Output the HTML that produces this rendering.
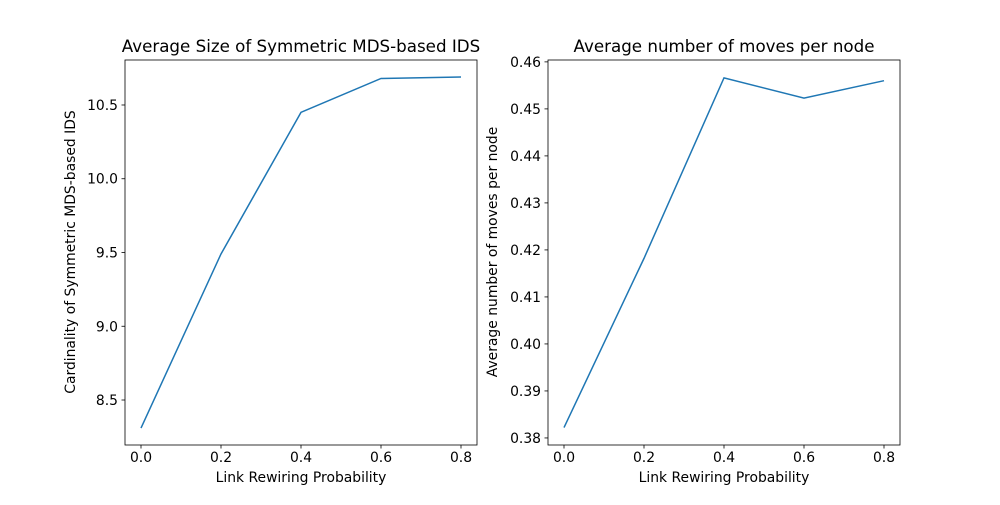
<!DOCTYPE html>
<html><head><meta charset="utf-8"><style>body{margin:0;background:#fff}svg{font-family:"DejaVu Sans","Liberation Sans",sans-serif}</style></head>
<body>
<svg id="fig" width="1000" height="500" xmlns="http://www.w3.org/2000/svg"></svg>
<script>
const xCats=[0.0,0.2,0.4,0.6,0.8];
const xTicks=[0.0,0.2,0.4,0.6,0.8];
const leftVals=[8.31,9.49,10.45,10.68,10.69];
const leftTicks=[8.5,9.0,9.5,10.0,10.5];
const rightVals=[0.3822,0.4182,0.4566,0.4523,0.4560];
const rightTicks=[0.38,0.39,0.40,0.41,0.42,0.43,0.44,0.45,0.46];
const NS="http://www.w3.org/2000/svg";
const svg=document.getElementById('fig');
function mk(t,a,p){const e=document.createElementNS(NS,t);for(const k in a)e.setAttribute(k,a[k]);(p||svg).appendChild(e);return e;}
function panel(name,x0,x1,y0,y1,ymin,ymax,vals,yt,dec,title,ylabel){
 const g=mk('g',{});
 
 
 const sx=v=>x0+(v+0.04)/0.88*(x1-x0);
 const sy=v=>y1-(v-ymin)/(ymax-ymin)*(y1-y0);
 const pts=xCats.map((c,i)=>sx(c)+','+sy(vals[i])).join(' ');
 const l=mk('polyline',{points:pts,fill:'none',stroke:'#1f77b4','stroke-width':1.5},g);
 
 
 const r=mk('rect',{x:x0,y:y0,width:x1-x0,height:y1-y0,fill:'none',stroke:'#000','stroke-width':0.8},g);
 
 
 xTicks.forEach(t=>{const x=sx(t);mk('line',{x1:x,x2:x,y1:y1,y2:y1+3.5,stroke:'#000','stroke-width':0.8},g);
  const tx=mk('text',{x:x,y:y1+17,'font-size':13.9,'text-anchor':'middle'},g);tx.textContent=t.toFixed(1);
  
  });
 yt.forEach(t=>{const y=sy(t);mk('line',{x1:x0,x2:x0-3.5,y1:y,y2:y,stroke:'#000','stroke-width':0.8},g);
  const tx=mk('text',{x:x0-7,y:y+5,'font-size':13.9,'text-anchor':'end'},g);tx.textContent=t.toFixed(dec);
  
  });
 const ti=mk('text',{x:(x0+x1)/2,y:y0-8,'font-size':16.7,'text-anchor':'middle'},g);ti.textContent=title;
 
 
 const xl=mk('text',{x:(x0+x1)/2,y:y1+37,'font-size':13.9,'text-anchor':'middle'},g);xl.textContent='Link Rewiring Probability';
 
 
 return [g,sy];
}
panel('left-panel',125,477,60,445,8.195,10.805,leftVals,leftTicks,1,'Average Size of Symmetric MDS-based IDS','');
panel('right-panel',548,900,60,445,0.3785,0.4604,rightVals,rightTicks,2,'Average number of moves per node','');
const yl1=mk('text',{x:0,y:0,'font-size':13.9,'text-anchor':'middle',transform:'translate(75,252) rotate(-90)'});
yl1.textContent='Cardinality of Symmetric MDS-based IDS';


const yl2=mk('text',{x:0,y:0,'font-size':13.9,'text-anchor':'middle',transform:'translate(497,252) rotate(-90)'});
yl2.textContent='Average number of moves per node';


</script>
</body></html>
